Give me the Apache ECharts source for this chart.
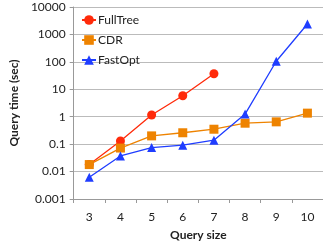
<!DOCTYPE html>
<html>
<head>
<meta charset="utf-8">
<script src="https://cdn.jsdelivr.net/npm/echarts@6/dist/echarts.min.js"></script>
<style>
html, body { margin: 0; padding: 0; background: #fff; }
#chart { width: 323px; height: 247px; }
</style>
</head>
<body>
<div id="chart"></div>
<script>
// query sizes on the x axis
var querySizes = ['3', '4', '5', '6', '7', '8', '9', '10'];
// query time in seconds
var fullTree = [0.018, 0.13, 1.15, 5.8, 37, null, null, null];
var cdr = [0.018, 0.072, 0.2, 0.26, 0.35, 0.58, 0.65, 1.35];
var fastOpt = [0.0062, 0.037, 0.075, 0.092, 0.14, 1.25, 105, 2400];

var chart = echarts.init(document.getElementById('chart'));
var font = 'Lato, "Noto Sans", sans-serif';

var option = {
    animation: false,
    textStyle: { fontFamily: font },
    grid: {
        left: 70,
        right: -8,
        top: 7,
        bottom: 48
    },
    legend: {
        orient: 'vertical',
        left: 76,
        top: 9,
        itemGap: 8,
        itemWidth: 14,
        itemHeight: 12,
        textStyle: { fontFamily: font, fontSize: 12, color: '#222', padding: [0, 0, 0, -3] },
        data: ['FullTree', 'CDR', 'FastOpt']
    },
    xAxis: {
        type: 'category',
        data: querySizes,
        boundaryGap: true,
        name: 'Query size',
        nameLocation: 'middle',
        nameGap: 30,
        nameTextStyle: { fontFamily: font, fontSize: 12, fontWeight: 'bold', color: '#222' },
        axisLine: { lineStyle: { color: '#999' } },
        axisTick: { show: true, length: 4, lineStyle: { color: '#999' } },
        axisLabel: { fontFamily: font, fontSize: 12, color: '#222', margin: 12 }
    },
    yAxis: {
        type: 'log',
        logBase: 10,
        min: 0.001,
        max: 10000,
        name: 'Query time (sec)',
        nameLocation: 'middle',
        nameGap: 50,
        nameTextStyle: { fontFamily: font, fontSize: 12, fontWeight: 'bold', color: '#222' },
        axisLine: { show: true, lineStyle: { color: '#999' } },
        axisTick: { show: true, length: 4, lineStyle: { color: '#999' } },
        splitLine: { lineStyle: { color: '#bbb', width: 1 } },
        axisLabel: {
            fontFamily: font,
            fontSize: 12,
            color: '#222',
            margin: 8,
            formatter: function (v) {
                return String(parseFloat(v.toPrecision(6)));
            }
        }
    },
    series: [{
            name: 'FullTree',
            type: 'line',
            data: fullTree,
            symbol: 'circle',
            symbolSize: 9,
            color: '#ff2a0a',
            lineStyle: { width: 1.3 }
        },
        {
            name: 'CDR',
            type: 'line',
            data: cdr,
            symbol: 'rect',
            symbolSize: 9,
            color: '#ee8300',
            lineStyle: { width: 1.3 }
        },
        {
            name: 'FastOpt',
            type: 'line',
            data: fastOpt,
            symbol: 'triangle',
            symbolSize: 9,
            color: '#1f3dff',
            lineStyle: { width: 1.3 }
        }
    ]
};
chart.setOption(option);
</script>
</body>
</html>
